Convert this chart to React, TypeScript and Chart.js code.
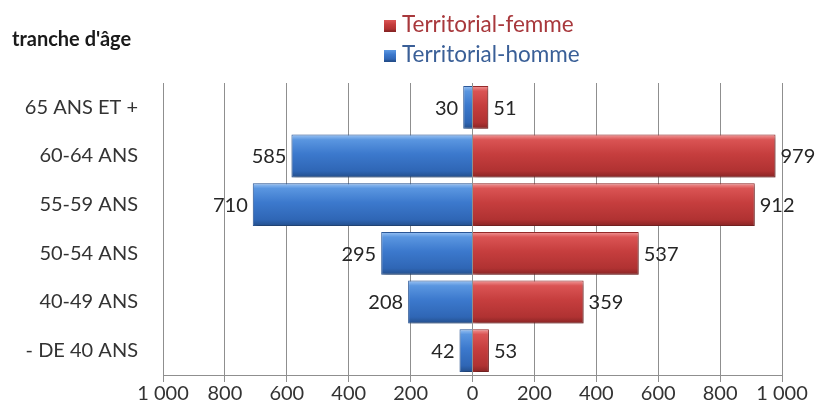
import React, { useEffect, useRef } from 'react';
import { Chart, registerables } from 'chart.js';

Chart.register(...registerables);

const categories = ['65 ANS ET +', '60-64 ANS', '55-59 ANS', '50-54 ANS', '40-49 ANS', '- DE 40 ANS'];
const hommeValues = [30, 585, 710, 295, 208, 42];
const femmeValues = [51, 979, 912, 537, 359, 53];
const xTickValues = [-1000, -800, -600, -400, -200, 0, 200, 400, 600, 800, 1000];
const femmeName = 'Territorial-femme';
const hommeName = 'Territorial-homme';
const axisTitle = "tranche d'âge";

const FONT = 'Lato, "Open Sans", sans-serif';
const BAR_PCT = 0.88;

const fmt = (n: number) => String(Math.abs(n)).replace(/\B(?=(\d{3})+(?!\d))/g, '\u00a0');

const redStops: [number, string][] = [
  [0, '#f29a9a'], [0.12, '#da5454'], [0.45, '#c63e3e'], [0.85, '#b03232'], [1, '#882424'],
];
const blueStops: [number, string][] = [
  [0, '#9cc4f4'], [0.12, '#5a96e0'], [0.45, '#3c79cd'], [0.85, '#2f66b5'], [1, '#234e8b'],
];

function gradientFor(stops: [number, string][], fallback: string) {
  return (c: any) => {
    const chart = c.chart;
    const y = chart.scales?.y;
    if (!y || c.type !== 'data' || !chart.chartArea) return fallback;
    const center = y.getPixelForValue(c.dataIndex);
    const cw = y.height / categories.length;
    const half = (cw * BAR_PCT) / 2;
    const g = chart.ctx.createLinearGradient(0, center - half, 0, center + half);
    stops.forEach(([o, col]) => g.addColorStop(o, col));
    return g;
  };
}

const decorPlugin = {
  id: 'decor',
  beforeDatasetsDraw(chart: any) {
    const ctx = chart.ctx;
    ctx.save();
    ctx.shadowColor = 'rgba(0,0,0,0.35)';
    ctx.shadowBlur = 4;
    ctx.shadowOffsetX = 2;
    ctx.shadowOffsetY = 2;
  },
  afterDatasetsDraw(chart: any) {
    const ctx = chart.ctx;
    ctx.restore();
    ctx.save();
    ctx.font = `20px ${FONT}`;
    ctx.fillStyle = '#262626';
    ctx.textBaseline = 'middle';
    chart.data.datasets.forEach((ds: any, di: number) => {
      const meta = chart.getDatasetMeta(di);
      meta.data.forEach((bar: any, i: number) => {
        const v = ds.data[i];
        const txt = fmt(v);
        if (v < 0) {
          ctx.textAlign = 'right';
          ctx.fillText(txt, bar.x - 5, bar.y + 1);
        } else {
          ctx.textAlign = 'left';
          ctx.fillText(txt, bar.x + 5, bar.y + 1);
        }
      });
    });
    ctx.restore();
  },
  afterDraw(chart: any) {
    const ctx = chart.ctx;
    ctx.save();
    ctx.textBaseline = 'middle';
    ctx.textAlign = 'left';
    ctx.font = `bold 20px ${FONT}`;
    ctx.fillStyle = '#1a1a1a';
    ctx.fillText(axisTitle, 12, 40);

    const items: [string, string, [number, string][], number][] = [
      [femmeName, '#a8383c', redStops, 25],
      [hommeName, '#3a5f97', blueStops, 55],
    ];
    ctx.font = `22.5px ${FONT}`;
    items.forEach(([name, col, stops, y]) => {
      const s = 12;
      const g = ctx.createLinearGradient(0, y - s / 2, 0, y + s / 2);
      stops.forEach(([o, c]) => g.addColorStop(o, c));
      ctx.fillStyle = g;
      ctx.fillRect(384, y - s / 2 + 1, s, s);
      ctx.fillStyle = col;
      ctx.fillText(name, 402, y);
    });
    ctx.restore();
  },
};

export default function App() {
  const ref = useRef<HTMLCanvasElement | null>(null);
  useEffect(() => {
    if (!ref.current) return;
    const chart = new Chart(ref.current, {
      type: 'bar',
      data: {
        labels: categories,
        datasets: [
          {
            label: hommeName,
            data: hommeValues.map((v) => -v),
            backgroundColor: gradientFor(blueStops, '#3e7bd0'),
            borderColor: '#2c5a9c',
            borderWidth: 1,
            barPercentage: BAR_PCT,
            categoryPercentage: 1,
          },
          {
            label: femmeName,
            data: femmeValues,
            backgroundColor: gradientFor(redStops, '#c94242'),
            borderColor: '#9a2c2c',
            borderWidth: 1,
            barPercentage: BAR_PCT,
            categoryPercentage: 1,
          },
        ],
      },
      options: {
        indexAxis: 'y',
        responsive: false,
        animation: false,
        devicePixelRatio: 1,
        layout: { padding: { top: 83, right: 34, bottom: 0, left: 0 } },
        plugins: { legend: { display: false }, tooltip: { enabled: false } },
        scales: {
          x: {
            stacked: true,
            min: -1000,
            max: 1000,
            afterBuildTicks: (s: any) => {
              s.ticks = xTickValues.map((v) => ({ value: v }));
            },
            afterFit: (s: any) => {
              s.height = 37;
            },
            grid: { color: '#8f8f8f', lineWidth: 1, tickLength: 7, drawTicks: true },
            border: { color: '#8f8f8f' },
            ticks: {
              padding: 0,
              color: '#333333',
              font: { family: FONT, size: 20 },
              callback: (v: any) => fmt(Number(v)),
              autoSkip: false,
              maxRotation: 0,
            },
          },
          y: {
            stacked: true,
            afterFit: (s: any) => {
              s.width = 163;
            },
            grid: { display: false, drawTicks: false },
            border: { display: false },
            ticks: {
              padding: 25,
              color: '#333333',
              font: { family: FONT, size: 20 },
            },
          },
        },
      },
      plugins: [decorPlugin],
    } as any);
    return () => chart.destroy();
  }, []);
  return (
    <div style={{ position: 'fixed', left: 0, top: 0, width: 816, height: 412, background: '#fff' }}>
      <canvas ref={ref} width={816} height={412} />
    </div>
  );
}
